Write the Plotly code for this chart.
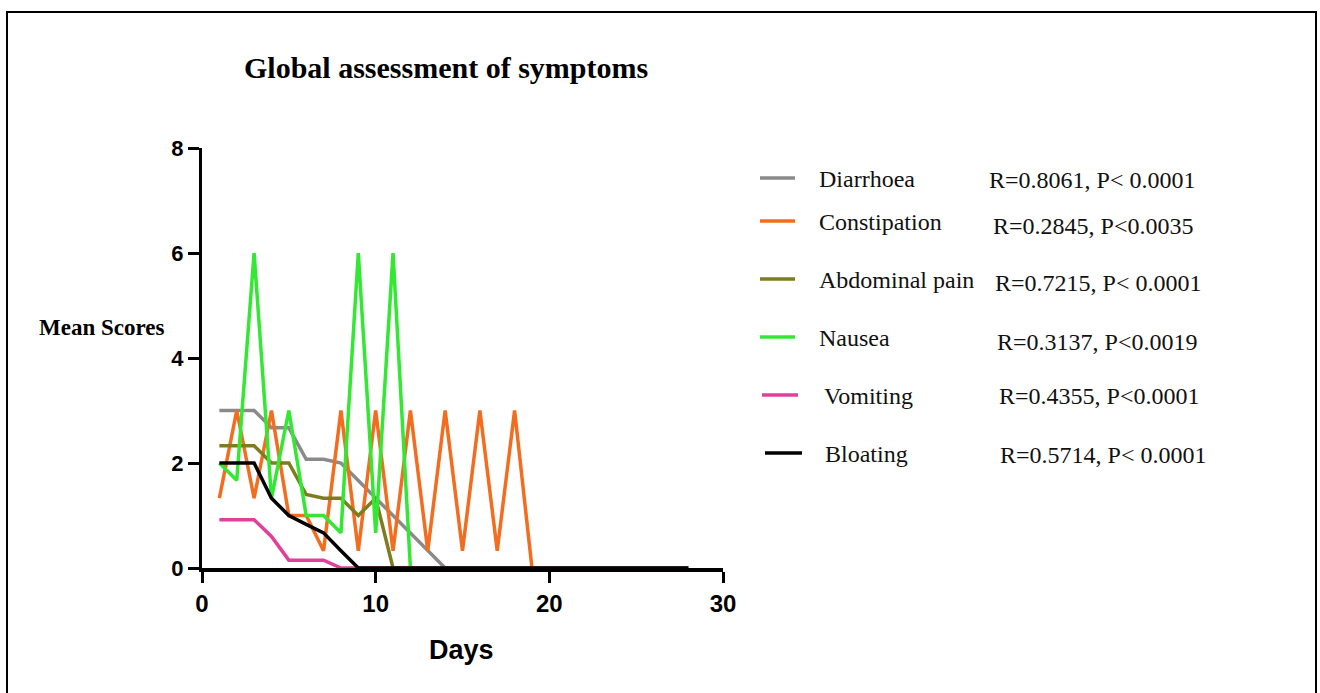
import plotly.graph_objects as go

# ---------------- data ----------------
days = list(range(1, 29))

diarrhoea = [3, 3, 3, 2.67, 2.67, 2.07, 2.07, 2, 1.67, 1.33, 1, 0.67, 0.33, 0] + [0] * 14
constipation = [1.33, 3, 1.33, 3, 1, 1, 0.33, 3, 0.33, 3, 0.33, 3, 0.33, 3, 0.33, 3, 0.33, 3, 0] + [0] * 9
abdominal_pain = [2.33, 2.33, 2.33, 2, 2, 1.4, 1.33, 1.33, 1, 1.33, 0] + [0] * 17
nausea = [2, 1.67, 6, 1.33, 3, 1, 1, 0.67, 6, 0.67, 6, 0] + [0] * 16
vomiting = [0.92, 0.92, 0.92, 0.6, 0.15, 0.15, 0.15, 0] + [0] * 20
bloating = [2, 2, 2, 1.33, 1, 0.83, 0.67, 0.33, 0] + [0] * 19

series_names = ["Diarrhoea", "Constipation", "Abdominal pain", "Nausea", "Vomiting", "Bloating"]
series_values = [diarrhoea, constipation, abdominal_pain, nausea, vomiting, bloating]
series_stats = [
    "R=0.8061, P< 0.0001",
    "R=0.2845, P<0.0035",
    "R=0.7215, P< 0.0001",
    "R=0.3137, P<0.0019",
    "R=0.4355, P<0.0001",
    "R=0.5714, P< 0.0001",
]
series_colors = ["#8a8a8a", "#f26d1f", "#7d7d20", "#33e833", "#e0409a", "#000000"]

x_ticks = [0, 10, 20, 30]
y_ticks = [0, 2, 4, 6, 8]

# ---------------- layout helpers ----------------
W, H = 1320, 693
L, R, T, B = 202, 723, 148, 568  # plot area in pixels


def px(xp):
    return (xp - L) / (R - L)


def py(yp):
    return (B - yp) / (B - T)


fig = go.Figure()
for name, vals, col in zip(series_names, series_values, series_colors):
    fig.add_trace(go.Scatter(x=days, y=vals, mode="lines", name=name,
                             line=dict(color=col, width=3.5), showlegend=False))

shapes = []
annotations = []

# legend rows (line sample, label, statistics)
leg_rows = [
    (760, 795, 178, 817, 987, 180),
    (760, 795, 221, 817, 991, 226),
    (760, 795, 279, 817, 993, 283),
    (760, 795, 337, 817, 995, 342),
    (762, 798, 395, 822, 997, 396),
    (765, 802, 453, 823, 998, 455),
]
for (x0, x1, ly, tx, sx, sy), name, stat, col in zip(leg_rows, series_names, series_stats, series_colors):
    shapes.append(dict(type="line", xref="paper", yref="paper",
                       x0=px(x0), x1=px(x1), y0=py(ly), y1=py(ly),
                       line=dict(color=col, width=3.5)))
    annotations.append(dict(xref="paper", yref="paper", x=px(tx), y=py(ly + 1),
                            xanchor="left", yanchor="middle", showarrow=False, text=name,
                            font=dict(family="Liberation Serif", size=24, color="#111")))
    annotations.append(dict(xref="paper", yref="paper", x=px(sx), y=py(sy),
                            xanchor="left", yanchor="middle", showarrow=False, text=stat,
                            font=dict(family="Liberation Serif", size=24, color="#111")))

# title
annotations.append(dict(xref="paper", yref="paper", x=px(446), y=py(67),
                        xanchor="center", yanchor="middle", showarrow=False,
                        text="Global assessment of symptoms",
                        font=dict(family="Liberation Serif", size=30, color="#000", weight="bold")))
# y label
annotations.append(dict(xref="paper", yref="paper", x=px(101), y=py(327),
                        xanchor="center", yanchor="middle", showarrow=False,
                        text="Mean Scores",
                        font=dict(family="Liberation Serif", size=23, color="#000", weight="bold")))
# x label
annotations.append(dict(xref="paper", yref="paper", x=px(461), y=py(650),
                        xanchor="center", yanchor="middle", showarrow=False,
                        text="Days",
                        font=dict(family="Liberation Sans", size=27, color="#000", weight="bold")))

# outer frame
shapes.append(dict(type="rect", xref="paper", yref="paper",
                   x0=px(7), x1=px(1316), y0=py(12), y1=py(720),
                   line=dict(color="#000", width=2), fillcolor="rgba(0,0,0,0)", layer="below"))

fig.update_layout(
    width=W, height=H,
    margin=dict(l=L, r=W - R, t=T, b=H - B, pad=0),
    paper_bgcolor="white", plot_bgcolor="white",
    shapes=shapes, annotations=annotations,
    showlegend=False,
)
fig.update_xaxes(range=[0, 30], tickvals=x_ticks, ticktext=[str(v) for v in x_ticks],
                 showgrid=False, zeroline=False, showline=True, linecolor="#000", linewidth=4,
                 ticks="outside", ticklen=11, tickwidth=3, tickcolor="#000",
                 tickfont=dict(family="Liberation Sans", size=24, color="#000", weight="bold"),
                 layer="below traces")
fig.update_yaxes(range=[0, 8], tickvals=y_ticks, ticktext=[str(v) for v in y_ticks],
                 showgrid=False, zeroline=False, showline=True, linecolor="#000", linewidth=3,
                 ticks="outside", ticklen=11, tickwidth=3, tickcolor="#000",
                 tickfont=dict(family="Liberation Sans", size=22, color="#000", weight="bold"),
                 layer="below traces")

fig.write_html("out.html",
               config={"displayModeBar": False},
               post_script="document.body.style.margin='0px';document.body.style.overflow='hidden';")
